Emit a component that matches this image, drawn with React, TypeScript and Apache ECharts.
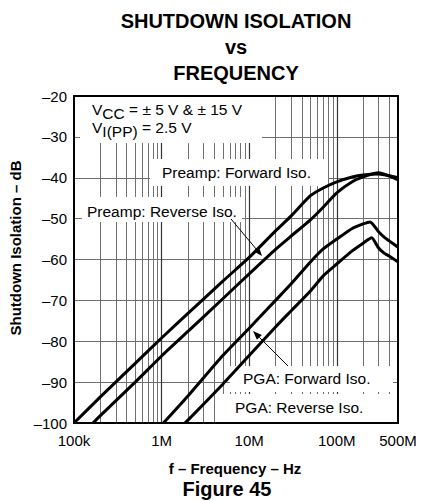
import React, { useEffect, useRef } from 'react';
import * as echarts from 'echarts';

const FONT = '"Liberation Sans", Arial, Helvetica, sans-serif';

// Preamp: Forward Iso.
const preampFwdFreq = [1e5, 2e5, 5e5, 1e6, 2e6, 5e6, 1e7, 2e7, 3e7, 5e7, 7e7, 1e8, 1.5e8, 2e8, 3e8, 4e8, 5e8];
const preampFwdDb = [-100, -93.6, -85.4, -79.2, -73.2, -65.3, -59.5, -53, -49.4, -44.4, -42.5, -41, -39.8, -39.3, -39.1, -39.5, -40];
// Preamp: Reverse Iso.
const preampRevFreq = [1.65e5, 2e5, 5e5, 1e6, 2e6, 5e6, 1e7, 2e7, 3e7, 5e7, 7e7, 1e8, 1.5e8, 2e8, 3e8, 4e8, 5e8];
const preampRevDb = [-100, -98.2, -90, -83.6, -77.6, -69.6, -63.5, -57.5, -54.3, -50.3, -47.2, -43.7, -41, -39.8, -38.8, -39.6, -40.5];
// PGA: Forward Iso.
const pgaFwdFreq = [1.05e6, 2e6, 5e6, 1e7, 2e7, 3e7, 5e7, 7e7, 1e8, 1.5e8, 2e8, 2.4e8, 3e8, 3.5e8, 4e8, 5e8];
const pgaFwdDb = [-100, -93.4, -83.5, -76.8, -70, -66, -60.6, -57.4, -55, -52.4, -51.3, -50.8, -53.2, -54.6, -55.5, -57];
// PGA: Reverse Iso.
const pgaRevFreq = [1.85e6, 2e6, 5e6, 1e7, 2e7, 3e7, 5e7, 7e7, 1e8, 1.5e8, 2e8, 2.5e8, 3e8, 3.5e8, 4e8, 5e8];
const pgaRevDb = [-100, -99.3, -90.5, -83.5, -76.5, -72.6, -67.7, -64, -61.1, -57.9, -56, -54.7, -57.2, -58.5, -59.2, -60.6];

// vertical grid lines (Hz)
const minorGridFreqs = [
  2e5, 3e5, 4e5, 5e5, 6e5, 7e5, 8e5, 9e5,
  2e6, 3e6, 4e6, 5e6, 6e6, 7e6, 8e6, 9e6,
  2e7, 3e7, 4e7, 5e7, 6e7, 7e7, 8e7, 9e7,
  2e8, 3e8, 4e8,
];
const decadeGridFreqs = [1e6, 1e7, 1e8];

const xTickValues = [1e5, 1e6, 1e7, 1e8, 5e8];
const xTickLabels = ['100k', '1M', '10M', '100M', '500M'];

const titleLines = ['SHUTDOWN ISOLATION', 'vs', 'FREQUENCY'];
const xAxisTitle = 'f – Frequency – Hz';
const yAxisTitle = 'Shutdown Isolation – dB';
const figureLabel = 'Figure 45';

function toPairs(f: number[], d: number[]) {
  return f.map((v, i) => [v, d[i]]);
}

function arrow(x1: number, y1: number, x2: number, y2: number) {
  const dx = x2 - x1;
  const dy = y2 - y1;
  const len = Math.sqrt(dx * dx + dy * dy);
  const ux = dx / len;
  const uy = dy / len;
  const hl = 9;
  const hw = 3.5;
  const bx = x2 - ux * hl;
  const by = y2 - uy * hl;
  const px = -uy;
  const py = ux;
  return [
    { type: 'line', z: 4, shape: { x1, y1, x2: bx, y2: by }, style: { stroke: '#000', lineWidth: 1 } },
    {
      type: 'polygon', z: 4,
      shape: { points: [[x2, y2], [bx + px * hw, by + py * hw], [bx - px * hw, by - py * hw]] },
      style: { fill: '#000' },
    },
  ];
}

export default function App() {
  const ref = useRef<HTMLDivElement>(null);
  useEffect(() => {
    document.body.style.margin = '0';
    if (!ref.current) return;
    const chart = echarts.init(ref.current, undefined, { renderer: 'svg' });

    const lineSeries = (name: string, f: number[], d: number[]) => ({
      name,
      type: 'line',
      data: toPairs(f, d),
      showSymbol: false,
      smooth: 0.2,
      z: 5,
      lineStyle: { color: '#000', width: 3 },
    });

    const whiteBox = (x: number, y: number, w: number, h: number) => ({
      type: 'rect', z: 3, shape: { x, y, width: w, height: h }, style: { fill: '#fff' },
    });
    const note = (text: string, x: number, y: number) => ({
      type: 'text', z: 4, x, y,
      style: {
        text, fill: '#000', fontSize: 15.5, fontFamily: FONT,
        align: 'left', verticalAlign: 'middle', textAlign: 'left', textVerticalAlign: 'middle',
      },
    });
    const richStyles = {
      n: { fontSize: 15.5, fontFamily: FONT, lineHeight: 18, verticalAlign: 'top', fill: '#000', color: '#000' },
      s: { fontSize: 15.5, fontFamily: FONT, lineHeight: 18, verticalAlign: 'top', padding: [4, 0, 0, 0], fill: '#000', color: '#000' },
    };

    const option: any = {
      animation: false,
      grid: { left: 74, top: 96, width: 324, height: 327, show: false },
      xAxis: {
        type: 'log',
        logBase: 10,
        min: 1e5,
        max: 5e8,
        axisLine: { show: false },
        axisTick: { show: false },
        splitLine: { show: false },
        axisLabel: {
          margin: 10,
          fontSize: 15,
          fontFamily: FONT,
          color: '#000',
          formatter: (v: number) => {
            for (let i = 0; i < xTickValues.length; i++) {
              if (Math.abs(Math.log10(v) - Math.log10(xTickValues[i])) < 0.01) return xTickLabels[i];
            }
            return '';
          },
        },
      },
      yAxis: {
        type: 'value',
        min: -100,
        max: -20,
        interval: 10,
        axisLine: { show: false },
        axisTick: { show: false },
        splitLine: { show: true, lineStyle: { color: '#707070', width: 1 } },
        axisLabel: {
          margin: 7,
          fontSize: 15,
          fontFamily: FONT,
          color: '#000',
          formatter: (v: number) => (v < 0 ? '–' + Math.abs(v) : String(v)),
        },
      },
      series: [
        {
          type: 'line',
          data: [[1e5, -100]],
          showSymbol: false,
          lineStyle: { opacity: 0 },
          z: 1,
          silent: true,
          markLine: {
            z: 1,
            silent: true,
            symbol: ['none', 'none'],
            label: { show: false },
            data: [
              ...minorGridFreqs.map((f) => ({ xAxis: f, lineStyle: { color: '#707070', width: 1, type: 'solid' } })),
              ...decadeGridFreqs.map((f) => ({ xAxis: f, lineStyle: { color: '#333', width: 1.2, type: 'solid' } })),
            ],
          },
        },
        lineSeries('Preamp: Forward Iso.', preampFwdFreq, preampFwdDb),
        lineSeries('Preamp: Reverse Iso.', preampRevFreq, preampRevDb),
        lineSeries('PGA: Forward Iso.', pgaFwdFreq, pgaFwdDb),
        lineSeries('PGA: Reverse Iso.', pgaRevFreq, pgaRevDb),
      ],
      graphic: [
        // title
        ...titleLines.map((t, i) => ({
          type: 'text', x: 236, y: [21, 47, 73][i],
          style: {
            text: t, fill: '#000', fontSize: 20, fontWeight: 'bold', fontFamily: FONT,
            align: 'center', verticalAlign: 'middle', textAlign: 'center', textVerticalAlign: 'middle',
          },
        })),
        {
          type: 'text', x: 235, y: 468,
          style: {
            text: xAxisTitle, fill: '#000', fontSize: 15, fontWeight: 'bold', fontFamily: FONT,
            align: 'center', verticalAlign: 'middle', textAlign: 'center', textVerticalAlign: 'middle',
          },
        },
        {
          type: 'text', x: 227, y: 489,
          style: {
            text: figureLabel, fill: '#000', fontSize: 20, fontWeight: 'bold', fontFamily: FONT,
            align: 'center', verticalAlign: 'middle', textAlign: 'center', textVerticalAlign: 'middle',
          },
        },
        {
          type: 'text', x: 15, y: 248, rotation: Math.PI / 2,
          style: {
            text: yAxisTitle, fill: '#000', fontSize: 15, fontWeight: 'bold', fontFamily: FONT,
            align: 'center', verticalAlign: 'middle', textAlign: 'center', textVerticalAlign: 'middle',
          },
        },
        // boxes hiding the grid under annotations
        whiteBox(80, 97, 182, 46),
        whiteBox(150, 159, 178, 27),
        whiteBox(82, 197, 160, 25),
        whiteBox(230, 366, 163, 26),
        whiteBox(215, 394, 175, 28),
        // conditions
        {
          type: 'text', z: 4, x: 92, y: 101.5,
          style: {
            text: '{n|V}{s|CC}{n| = ± 5 V & ± 15 V}', rich: richStyles,
            align: 'left', verticalAlign: 'top', textAlign: 'left', textVerticalAlign: 'top',
          },
        },
        {
          type: 'text', z: 4, x: 92, y: 119,
          style: {
            text: '{n|V}{s|I(PP)}{n| = 2.5 V}', rich: richStyles,
            align: 'left', verticalAlign: 'top', textAlign: 'left', textVerticalAlign: 'top',
          },
        },
        note('Preamp: Forward Iso.', 162, 172),
        note('Preamp: Reverse Iso.', 87, 211),
        note('PGA: Forward Iso.', 243, 378),
        note('PGA: Reverse Iso.', 235, 407.5),
        ...arrow(231, 219, 262, 256),
        ...arrow(288, 366, 253, 331),
        // plot border
        {
          type: 'rect', z: 10,
          shape: { x: 74, y: 96, width: 324, height: 327 },
          style: { fill: 'none', stroke: '#000', lineWidth: 2 },
        },
      ],
    };

    chart.setOption(option);
    return () => chart.dispose();
  }, []);
  return <div ref={ref} style={{ width: 423, height: 501 }} />;
}
